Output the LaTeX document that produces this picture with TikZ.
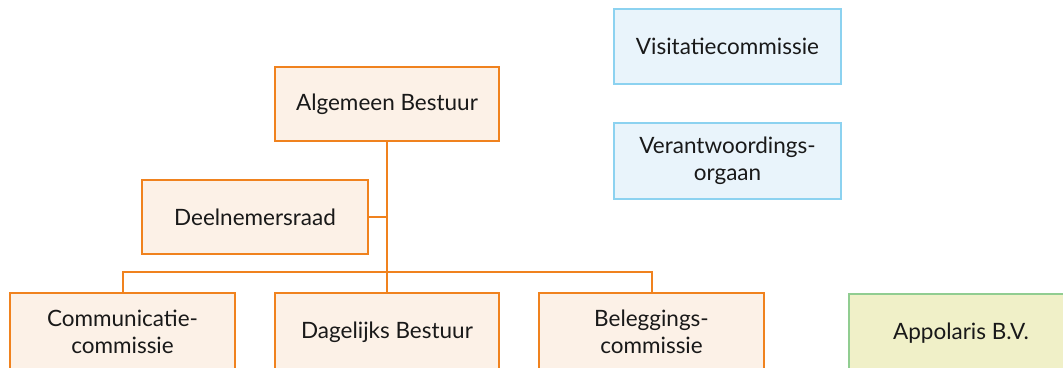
\documentclass[tikz,border=0pt]{standalone}
\usepackage{fontspec}
\setmainfont{Lato}
\definecolor{oline}{RGB}{240,130,30}
\definecolor{ofill}{RGB}{252,241,231}
\definecolor{bline}{RGB}{140,210,240}
\definecolor{bfill}{RGB}{233,244,251}
\definecolor{gline}{RGB}{145,205,145}
\definecolor{gfill}{RGB}{240,240,200}
\definecolor{txt}{RGB}{25,25,25}
\tikzset{
  obox/.style={draw=oline, fill=ofill, line width=2pt, minimum width=224pt, minimum height=74pt, align=center, inner sep=0pt, text=txt, font=\fontsize{22.5}{27.5}\selectfont},
  bbox/.style={obox, draw=bline, fill=bfill},
  gbox/.style={obox, draw=gline, fill=gfill},
  conn/.style={draw=oline, line width=2pt}
}
\begin{document}
\begin{tikzpicture}[x=1pt,y=1pt]
\useasboundingbox (0,0) rectangle (1063,367);
\clip (0,0) rectangle (1063,367);
\node[obox] (ab) at (387,263) {Algemeen Bestuur};
\node[obox, minimum width=226pt] (dr) at (255,150) {Deelnemersraad};
\node[obox, minimum width=225pt, minimum height=78pt] (comm) at (122.5,35) {Communicatie-\\commissie};
\node[obox, minimum height=78pt] (db) at (387,35) {Dagelijks Bestuur};
\node[obox, minimum width=225pt, minimum height=78pt] (bc) at (651.5,35) {Beleggings-\\commissie};
\node[gbox, minimum width=260pt, minimum height=78pt] (ap) at (979,34) {\hspace*{-36pt}Appolaris B.V.};
\node[bbox, minimum width=227pt, minimum height=75pt] (vc) at (727.5,320.5) {Visitatiecommissie};
\node[bbox, minimum width=227pt, minimum height=76pt] (vo) at (727.5,206) {Verantwoordings-\\orgaan};
\coordinate (bar) at (387,95);
\draw[conn] (ab.south) -- (db.north);
\draw[conn] (dr.east) -- (dr.east -| ab.south);
\draw[conn] (comm.north) |- (bar) -| (bc.north);
\end{tikzpicture}
\end{document}
